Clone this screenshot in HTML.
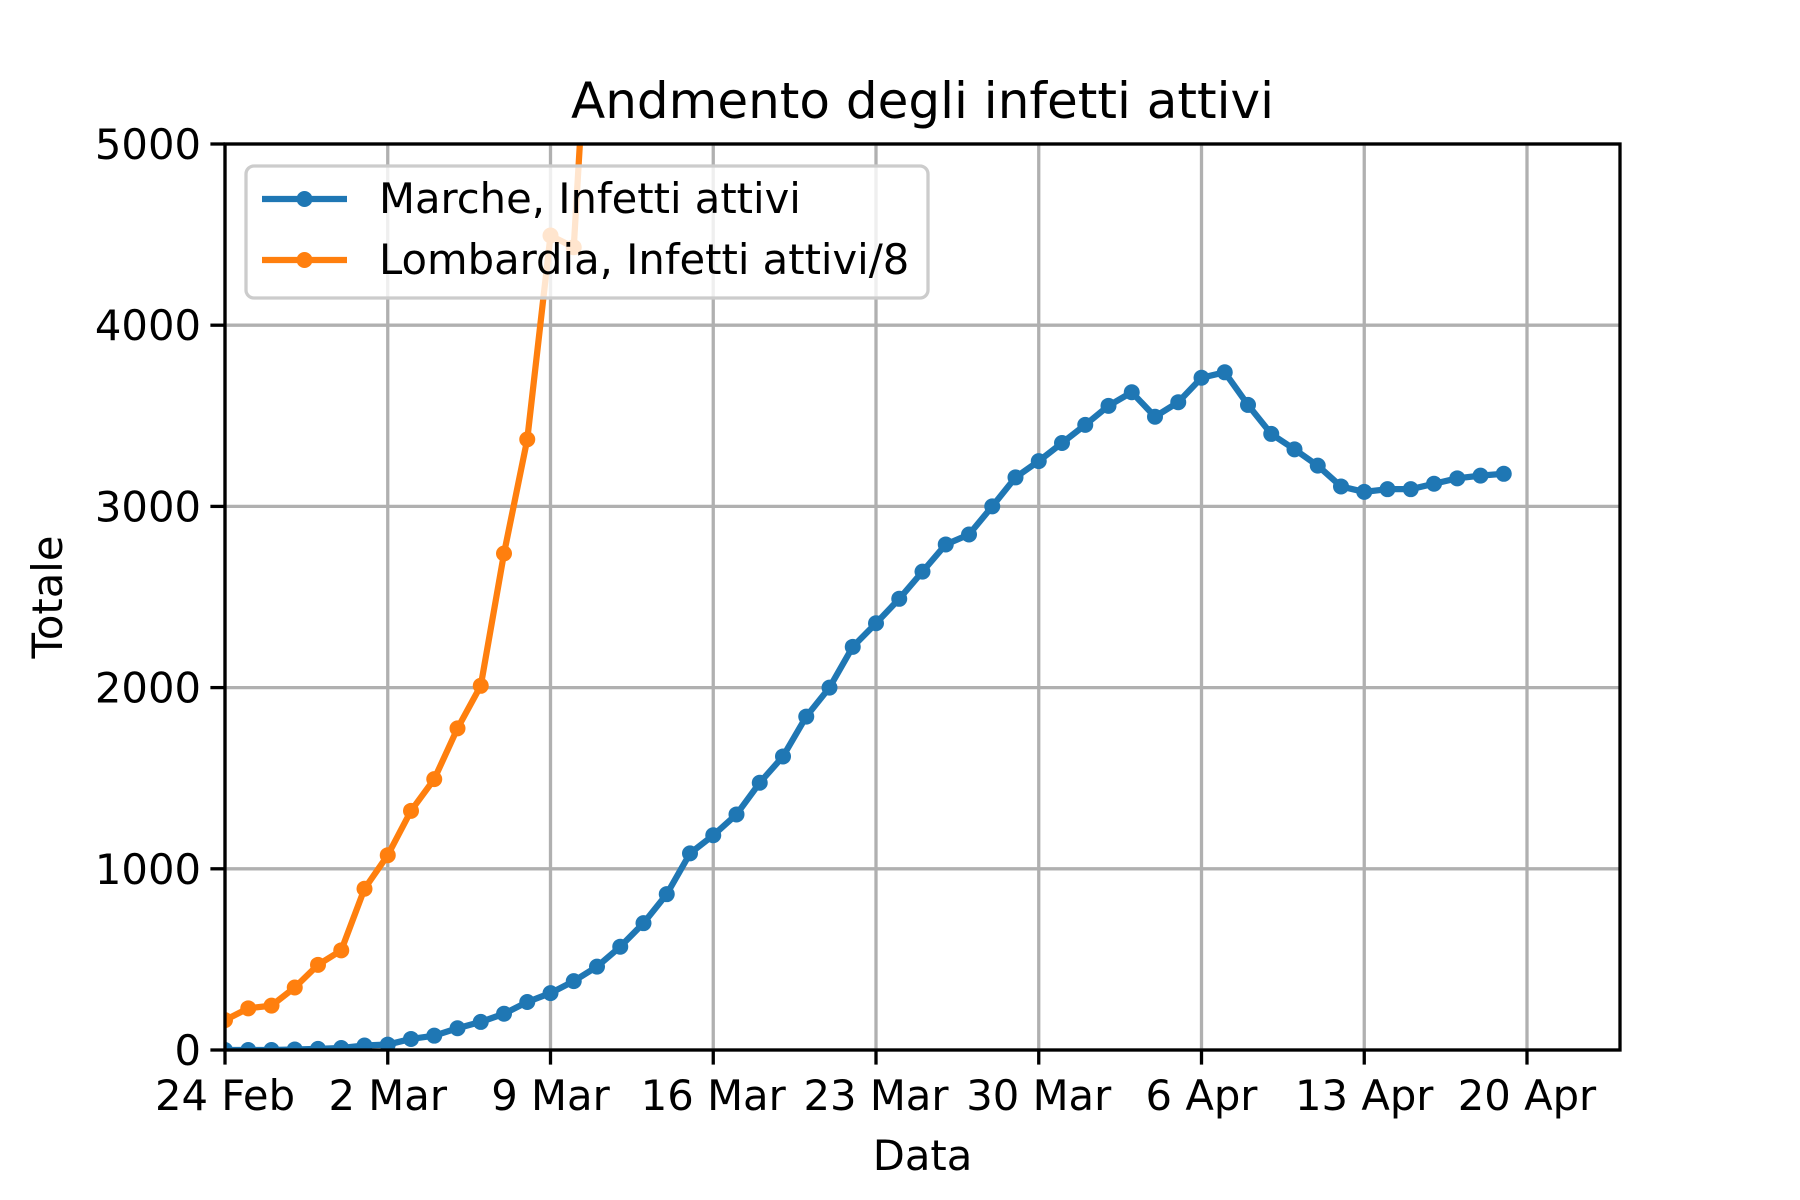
<!DOCTYPE html>
<html><head><meta charset="utf-8"><style>
html,body{margin:0;padding:0;background:#fff;}
svg{display:block;font-family:"DejaVu Sans","Liberation Sans",sans-serif;}
</style></head><body>
<svg id="chart" width="1800" height="1200" viewBox="0 0 1800 1200" xmlns="http://www.w3.org/2000/svg">
<rect x="0" y="0" width="1800" height="1200" fill="#fff"/>
<defs><clipPath id="clip"><rect x="225" y="144" width="1395" height="906"/></clipPath></defs>
<g id="grid"></g>
<g id="series" clip-path="url(#clip)"></g>
<rect x="225" y="144" width="1395" height="906" fill="none" stroke="#000" stroke-width="3.3"/>
<g id="ticks"></g>
<text x="922.5" y="118" font-size="50" text-anchor="middle">Andmento degli infetti attivi</text>
<text x="922.5" y="1170" font-size="41.7" text-anchor="middle">Data</text>
<text transform="translate(62,597) rotate(-90)" font-size="41.7" text-anchor="middle">Totale</text>
<g>
<rect x="246" y="166" width="682" height="132" rx="8" fill="#fff" fill-opacity="0.8" stroke="#ccc" stroke-width="3.3"/>
<line x1="262" y1="199" x2="347" y2="199" stroke="#1f77b4" stroke-width="6.25"/>
<circle cx="304.5" cy="199" r="8" fill="#1f77b4"/>
<text x="379" y="213" font-size="41.7">Marche, Infetti attivi</text>
<line x1="262" y1="260" x2="347" y2="260" stroke="#ff7f0e" stroke-width="6.25"/>
<circle cx="304.5" cy="260" r="8" fill="#ff7f0e"/>
<text x="379" y="274" font-size="41.7">Lombardia, Infetti attivi/8</text>
</g>
</svg>
<script>
const marche = [0,0,0,3,6,11,25,30,61,79,120,155,200,265,314,380,460,570,700,860,1085,1185,1300,1475,1620,1840,2000,2225,2355,2490,2640,2790,2845,3000,3160,3250,3350,3450,3555,3630,3495,3575,3710,3740,3560,3400,3315,3225,3110,3080,3095,3095,3125,3155,3170,3180];
const lombardia = [165,230,245,345,470,550,890,1075,1320,1495,1775,2010,2740,3370,4495,4430,6600];
const xTickDays = [0,7,14,21,28,35,42,49,56];
const xTickLabels = ["24 Feb","2 Mar","9 Mar","16 Mar","23 Mar","30 Mar","6 Apr","13 Apr","20 Apr"];
const yTicks = [0,1000,2000,3000,4000,5000];

const X0=225,X1=1620,Y0=1050,Y1=144;
const xs = d => X0 + d/60*(X1-X0);
const ys = v => Y0 - v/5000*(Y0-Y1);
const NS="http://www.w3.org/2000/svg";
function mk(tag, attrs, parent){const e=document.createElementNS(NS,tag);for(const k in attrs)e.setAttribute(k,attrs[k]);parent.appendChild(e);return e;}
const grid=document.getElementById('grid'), ticks=document.getElementById('ticks'), series=document.getElementById('series');
xTickDays.forEach((d,i)=>{
  const g=mk('line',{x1:xs(d),x2:xs(d),y1:Y1,y2:Y0,stroke:'#b0b0b0','stroke-width':3.3},grid);
  
  
  const t=mk('line',{x1:xs(d),x2:xs(d),y1:Y0,y2:Y0+14.6,stroke:'#000','stroke-width':3.3},ticks);
  
  
  const l=mk('text',{x:xs(d),y:Y0+60,'font-size':41.7,'text-anchor':'middle'},ticks);
  l.textContent=xTickLabels[i];
  
  
});
yTicks.forEach(v=>{
  const g=mk('line',{x1:X0,x2:X1,y1:ys(v),y2:ys(v),stroke:'#b0b0b0','stroke-width':3.3},grid);
  
  
  const t=mk('line',{x1:X0-14.6,x2:X0,y1:ys(v),y2:ys(v),stroke:'#000','stroke-width':3.3},ticks);
  
  
  const l=mk('text',{x:X0-24,y:ys(v)+15,'font-size':41.7,'text-anchor':'end'},ticks);
  l.textContent=String(v);
  
  
});
function draw(arr,color,name){
  const pts=arr.map((v,i)=>xs(i)+','+ys(v)).join(' ');
  const p=mk('polyline',{points:pts,fill:'none',stroke:color,'stroke-width':6.25,'stroke-linejoin':'round','stroke-linecap':'square'},series);
  
  
  arr.forEach((v,i)=>{
    const c=mk('circle',{cx:xs(i),cy:ys(v),r:8,fill:color},series);
    
    
  });
}
draw(lombardia,'#ff7f0e','lombardia');
draw(marche,'#1f77b4','marche');
</script>
</body></html>
